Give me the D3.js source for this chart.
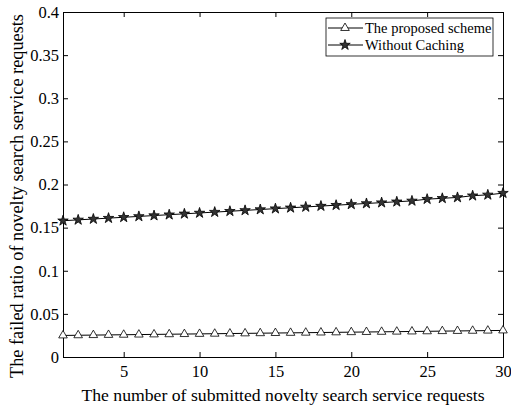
<!DOCTYPE html>
<html>
<head>
<meta charset="utf-8">
<script src="https://cdn.jsdelivr.net/npm/d3@7"></script>
<style>
  body { margin: 0; background: #fff; }
  svg text { font-family: "Liberation Serif", "Times New Roman", serif; fill: #000; }
</style>
</head>
<body>
<div id="container"></div>
<script>
// values
let requests = d3.range(1, 31);
let proposed = [
  0.0250, 0.0252, 0.0254, 0.0256, 0.0258, 0.0260, 0.0262, 0.0264, 0.0266, 0.0268,
  0.0270, 0.0272, 0.0274, 0.0276, 0.0278, 0.0280, 0.0282, 0.0284, 0.0286, 0.0288,
  0.0290, 0.0292, 0.0294, 0.0296, 0.0298, 0.0300, 0.0302, 0.0304, 0.0306, 0.0308
];
let withoutCaching = [
  0.158, 0.159, 0.160, 0.161, 0.162, 0.163, 0.164, 0.165, 0.166, 0.167,
  0.168, 0.169, 0.170, 0.171, 0.172, 0.173, 0.174, 0.175, 0.176, 0.177,
  0.178, 0.179, 0.180, 0.181, 0.183, 0.184, 0.185, 0.187, 0.188, 0.190
];
let xTicks = [5, 10, 15, 20, 25, 30];
let yTicks = [0, 0.05, 0.1, 0.15, 0.2, 0.25, 0.3, 0.35, 0.4];
let seriesNames = ["The proposed scheme", "Without Caching"];

let width = 511, height = 408;
let margin = { left: 63, right: 8, top: 12, bottom: 51 };

let svg = d3.select("#container").append("svg")
  .attr("width", width)
  .attr("height", height);

let xScale = d3.scaleLinear().domain([1, 30]).range([margin.left, width - margin.right]);
let yScale = d3.scaleLinear().domain([0, 0.4]).range([height - margin.bottom, margin.top]);

let tickFmt = (d) => String(+d.toFixed(2));

// axes, ticks inward
let xAxis = d3.axisBottom(xScale).tickValues(xTicks).tickSize(-5).tickPadding(8).tickFormat(tickFmt);
let yAxis = d3.axisLeft(yScale).tickValues(yTicks).tickSize(-5).tickPadding(4).tickFormat(tickFmt);

svg.append("g")
  .attr("transform", "translate(0," + yScale(0) + ")")
  .call(xAxis);
svg.append("g")
  .attr("transform", "translate(" + xScale(1) + ",0)")
  .call(yAxis);
svg.append("g")
  .attr("transform", "translate(0," + yScale(0.4) + ")")
  .call(d3.axisTop(xScale).tickValues(xTicks).tickSize(-5).tickFormat(""));
svg.append("g")
  .attr("transform", "translate(" + xScale(30) + ",0)")
  .call(d3.axisRight(yScale).tickValues(yTicks).tickSize(-5).tickFormat(""));

svg.selectAll(".domain").attr("stroke", "#000").attr("stroke-width", 1);
svg.selectAll(".tick line").attr("stroke", "#000");
svg.selectAll(".tick text")
  .style("font-family", "'Liberation Serif', serif")
  .style("font-size", "16.5px");

// axis titles
svg.append("text")
  .attr("x", (xScale(1) + xScale(30)) / 2)
  .attr("y", height - 7)
  .attr("text-anchor", "middle")
  .style("font-size", "17.7px")
  .text("The number of submitted novelty search service requests");

svg.append("text")
  .attr("transform", "translate(23,196) rotate(-90)")
  .attr("text-anchor", "middle")
  .style("font-size", "18.3px")
  .text("The failed ratio of novelty search service requests");

let line = d3.line()
  .x((d, i) => xScale(requests[i]))
  .y((d) => yScale(d));

let triangle = d3.symbol().type(d3.symbolTriangle).size(32);
let star = d3.symbol().type(d3.symbolStar).size(34);

function drawSeries(values, symbol, fill) {
  svg.append("path")
    .datum(values)
    .attr("fill", "none")
    .attr("stroke", "#000")
    .attr("stroke-width", 1)
    .attr("d", line);
  svg.append("g")
    .selectAll("path")
    .data(values)
    .enter()
    .append("path")
    .attr("transform", (d, i) => "translate(" + xScale(requests[i]) + "," + yScale(d) + ")")
    .attr("d", symbol)
    .attr("fill", fill)
    .attr("stroke", "#000")
    .attr("stroke-width", 0.8);
}

drawSeries(proposed, triangle, "#fff");
drawSeries(withoutCaching, star, "#333");

// legend
let legend = svg.append("g").attr("transform", "translate(326,18)");
legend.append("rect")
  .attr("width", 167)
  .attr("height", 38)
  .attr("fill", "#fff")
  .attr("stroke", "#000")
  .attr("stroke-width", 0.8);
let symbols = [triangle, star];
let fills = ["#fff", "#333"];
seriesNames.forEach(function (name, i) {
  let y = 10 + i * 17;
  legend.append("line")
    .attr("x1", 2).attr("x2", 37)
    .attr("y1", y).attr("y2", y)
    .attr("stroke", "#000");
  legend.append("path")
    .attr("transform", "translate(19," + y + ")")
    .attr("d", symbols[i])
    .attr("fill", fills[i])
    .attr("stroke", "#000")
    .attr("stroke-width", 0.8);
  legend.append("text")
    .attr("x", 39)
    .attr("y", y + 5)
    .style("font-size", "14.5px")
    .text(name);
});
</script>
</body>
</html>
